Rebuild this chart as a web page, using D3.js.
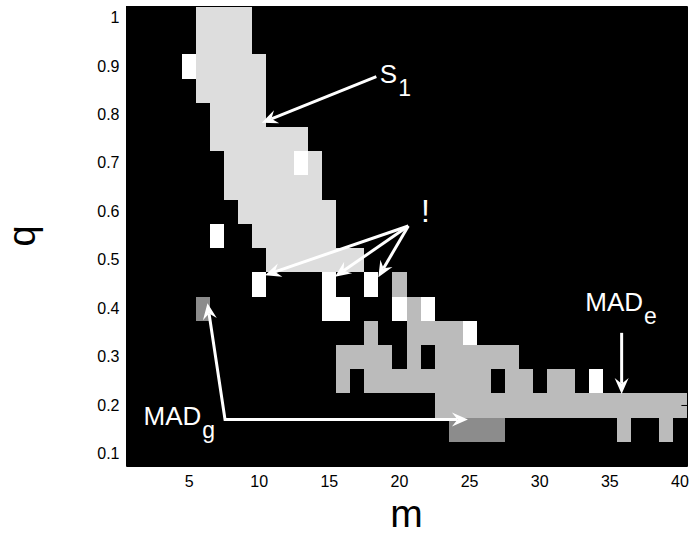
<!DOCTYPE html>
<html>
<head>
<meta charset="utf-8">
<script src="https://cdn.jsdelivr.net/npm/d3@7"></script>
<style>
  html, body { margin: 0; padding: 0; background: #ffffff; }
  svg { display: block; font-family: "Liberation Sans", Arial, Helvetica, sans-serif; }
</style>
</head>
<body>
<svg id="chart" width="695" height="533"></svg>
<script>
// Window length m (columns) and quantile q (rows, top to bottom)
const mValues = [1,2,3,4,5,6,7,8,9,10,11,12,13,14,15,16,17,18,19,20,
                 21,22,23,24,25,26,27,28,29,30,31,32,33,34,35,36,37,38,39,40];
const qValues = [1, 0.95, 0.9, 0.85, 0.8, 0.75, 0.7, 0.65, 0.6, 0.55,
                 0.5, 0.45, 0.4, 0.35, 0.3, 0.25, 0.2, 0.15, 0.1];
const mTicks = [5, 10, 15, 20, 25, 30, 35, 40];
const qTicks = [0.1, 0.2, 0.3, 0.4, 0.5, 0.6, 0.7, 0.8, 0.9, 1];

// Best method per (q, m): 0 none, 1 MAD_g, 2 MAD_e, 3 S1, 4 "!"
// One string per q row, one digit per m column (m = 1..40)
const bestMethod = [
  "0000033330000000000000000000000000000000", // q = 1.00
  "0000033330000000000000000000000000000000", // q = 0.95
  "0000433333000000000000000000000000000000", // q = 0.90
  "0000033333000000000000000000000000000000", // q = 0.85
  "0000003333000000000000000000000000000000", // q = 0.80
  "0000003333333000000000000000000000000000", // q = 0.75
  "0000000333334300000000000000000000000000", // q = 0.70
  "0000000333333300000000000000000000000000", // q = 0.65
  "0000000033333330000000000000000000000000", // q = 0.60
  "0000004003333330000000000000000000000000", // q = 0.55
  "0000000000333333300000000000000000000000", // q = 0.50
  "0000000004000040040200000000000000000000", // q = 0.45
  "0000010000000044000424000000000000000000", // q = 0.40
  "0000000000000000020022224000000000000000", // q = 0.35
  "0000000000000002222020222222000000000000", // q = 0.30
  "0000000000000002022222222202202204000000", // q = 0.25
  "0000000000000000000000222222222222222222", // q = 0.20
  "0000000000000000000000011110000000020020", // q = 0.15
  "0000000000000000000000000000000000000000"  // q = 0.10
];
const methodColors = ["#000000", "#8c8c8c", "#bbbbbb", "#dddddd", "#ffffff"];

// Callouts, placed in (m, q) data units
const labelTexts = [
  { main: "S", sub: "1", m: 18.6, q: 0.866 },
  { main: "MAD", sub: "e", m: 33.25, q: 0.396 },
  { main: "MAD", sub: "g", m: 1.75, q: 0.160 }
];
const bangLabel = { text: "!", m: 21.85, q: 0.5795 };
const arrowPaths = [
  { pts: [[18.35, 0.879], [10.18, 0.784]], heads: ["end"] },
  { pts: [[20.63, 0.5706], [10.41, 0.469]], heads: ["end"] },
  { pts: [[20.63, 0.5706], [15.40, 0.466]], heads: ["end"] },
  { pts: [[20.63, 0.5706], [18.49, 0.465]], heads: ["end"] },
  { pts: [[35.84, 0.350], [35.84, 0.2235]], heads: ["end"] },
  { pts: [[6.31, 0.411], [7.56, 0.171], [24.88, 0.171]], heads: ["start", "end"] }
];

const plot = { left: 126, right: 687, top: 6, bottom: 466 };

const svg = d3.select("#chart");

const x = d3.scaleBand().domain(mValues).range([plot.left, plot.right]).padding(0);
const y = d3.scaleBand().domain(qValues).range([plot.top, plot.bottom]).padding(0);
// continuous versions of the same axes for the callouts
const xl = d3.scaleLinear().domain([0.5, 40.5]).range([plot.left, plot.right]);
const yl = d3.scaleLinear().domain([1.025, 0.075]).range([plot.top, plot.bottom]);

// axes background
svg.append("rect")
  .attr("x", plot.left).attr("y", plot.top)
  .attr("width", plot.right - plot.left).attr("height", plot.bottom - plot.top)
  .attr("fill", "#000");

// cells
const cells = [];
bestMethod.forEach((row, i) => {
  for (let j = 0; j < row.length; j++) {
    const c = +row[j];
    if (c > 0) cells.push({ m: mValues[j], q: qValues[i], c });
  }
});
svg.append("g").selectAll("rect").data(cells).join("rect")
  .attr("x", d => x(d.m))
  .attr("y", d => y(d.q))
  .attr("width", x.bandwidth())
  .attr("height", y.bandwidth())
  .attr("fill", d => methodColors[d.c])
  .attr("shape-rendering", "crispEdges");

// axes: ticks point inwards, black
const tickLen = 5.6;
const fmtQ = d => String(d);
const gB = svg.append("g").attr("transform", `translate(0,${plot.bottom})`)
  .call(d3.axisBottom(x).tickValues(mTicks).tickSizeInner(-tickLen).tickSizeOuter(0).tickPadding(10));
const gL = svg.append("g").attr("transform", `translate(${plot.left},0)`)
  .call(d3.axisLeft(y).tickValues(qTicks).tickFormat(fmtQ).tickSizeInner(-tickLen).tickSizeOuter(0).tickPadding(6.5));
const gT = svg.append("g").attr("transform", `translate(0,${plot.top})`)
  .call(d3.axisTop(x).tickValues(mTicks).tickSizeInner(-tickLen).tickSizeOuter(0).tickFormat(""));
const gR = svg.append("g").attr("transform", `translate(${plot.right},0)`)
  .call(d3.axisRight(y).tickValues(qTicks).tickSizeInner(-tickLen).tickSizeOuter(0).tickFormat(""));
[gB, gL, gT, gR].forEach(g => {
  g.selectAll(".domain").attr("stroke", "#000").attr("stroke-width", 1);
  g.selectAll(".tick line").attr("stroke", "#000").attr("stroke-width", 1);
  g.selectAll(".tick text").attr("fill", "#000").attr("font-size", 16)
    .attr("font-family", "\"Liberation Sans\", Arial, sans-serif");
});

// axis titles
svg.append("text")
  .attr("x", (plot.left + plot.right) / 2).attr("y", 526.5)
  .attr("text-anchor", "middle").attr("font-size", 39).attr("fill", "#000")
  .text("m");
svg.append("text")
  .attr("transform", `translate(35,${(plot.top + plot.bottom) / 2}) rotate(-90)`)
  .attr("text-anchor", "middle").attr("font-size", 38).attr("fill", "#000")
  .text("q");

// callout labels with subscripts
const labels = svg.append("g").attr("fill", "#fff");
labelTexts.forEach(l => {
  const t = labels.append("text")
    .attr("x", xl(l.m)).attr("y", yl(l.q))
    .attr("font-size", 26);
  t.append("tspan").text(l.main);
  t.append("tspan").attr("font-size", 23).attr("dx", 1).attr("dy", 13).text(l.sub);
});
labels.append("text")
  .attr("x", xl(bangLabel.m)).attr("y", yl(bangLabel.q))
  .attr("text-anchor", "middle").attr("font-size", 32)
  .text(bangLabel.text);

// arrows
const headLen = 16, headWid = 14, notch = 0.65;
function headPoints(from, tip) {
  const dx = tip[0] - from[0], dy = tip[1] - from[1];
  const len = Math.hypot(dx, dy);
  const ux = dx / len, uy = dy / len, nx = -uy, ny = ux;
  return {
    poly: [
      tip,
      [tip[0] - headLen * ux + headWid / 2 * nx, tip[1] - headLen * uy + headWid / 2 * ny],
      [tip[0] - notch * headLen * ux, tip[1] - notch * headLen * uy],
      [tip[0] - headLen * ux - headWid / 2 * nx, tip[1] - headLen * uy - headWid / 2 * ny]
    ],
    base: [tip[0] - notch * headLen * ux, tip[1] - notch * headLen * uy]
  };
}
const arrows = svg.append("g");
arrowPaths.forEach(a => {
  let pts = a.pts.map(p => [xl(p[0]), yl(p[1])]);
  const heads = [];
  if (a.heads.includes("end")) {
    const h = headPoints(pts[pts.length - 2], pts[pts.length - 1]);
    heads.push(h.poly);
    pts[pts.length - 1] = h.base;
  }
  if (a.heads.includes("start")) {
    const h = headPoints(pts[1], pts[0]);
    heads.push(h.poly);
    pts[0] = h.base;
  }
  arrows.append("path")
    .attr("d", d3.line()(pts))
    .attr("fill", "none").attr("stroke", "#fff").attr("stroke-width", 3)
    .attr("stroke-linejoin", "miter");
  heads.forEach(p => {
    arrows.append("path")
      .attr("d", d3.line()(p) + "Z")
      .attr("fill", "#fff").attr("stroke", "none");
  });
});
</script>
</body>
</html>
